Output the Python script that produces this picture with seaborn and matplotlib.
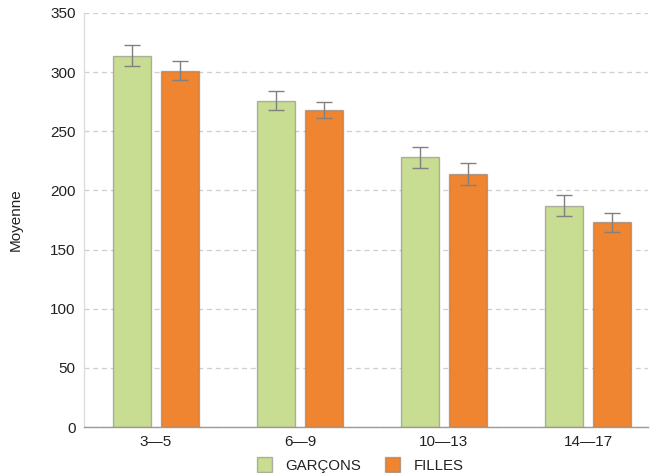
import matplotlib
matplotlib.use("Agg")
import matplotlib.pyplot as plt
import seaborn as sns
import pandas as pd
import numpy as np

categories = ["3\u20145", "6\u20149", "10\u201413", "14\u201417"]
series = ["GARÇONS", "FILLES"]
garcons = [314, 276, 228, 187]
filles = [301, 268, 214, 173]
garcons_err = [9, 8, 9, 9]
filles_err = [8, 7, 9, 8]
colors = ["#C8DC92", "#EF8431"]

sns.set_theme(style="white")
plt.rcParams["font.family"] = ["Liberation Sans", "DejaVu Sans"]

df = pd.DataFrame({
    "Tranche": categories * 2,
    "Sexe": [series[0]] * 4 + [series[1]] * 4,
    "Moyenne": garcons + filles,
})

fig = plt.figure(figsize=(6.51, 4.73), dpi=100)
ax = fig.add_axes([84 / 651, 1 - 427 / 473, (648 - 84) / 651, (427 - 13) / 473])

sns.barplot(data=df, x="Tranche", y="Moyenne", hue="Sexe", palette=colors,
            width=0.667, gap=0.2, errorbar=None, ax=ax,
            edgecolor=(0.45, 0.45, 0.45, 0.5), linewidth=1.0, saturation=1)

errs = garcons_err + filles_err
bars = [p for p in ax.patches if p.get_height() > 0][:8]
xs = [b.get_x() + b.get_width() / 2 for b in bars]
hs = [b.get_height() for b in bars]
ax.errorbar(xs, hs, yerr=errs, fmt="none", ecolor="#808080", elinewidth=1.0,
            capsize=5.5, capthick=1.0, zorder=5)

ax.set_ylim(0, 350)
ax.set_xlim(-0.5, 3.417)
ax.set_yticks(np.arange(0, 351, 50))
ax.yaxis.grid(True, linestyle=(0, (4, 3)), color="#cfcfcf", linewidth=0.9)
ax.set_axisbelow(True)
ax.set_xlabel("")
ax.set_ylabel("Moyenne", fontsize=11, color="#222222", labelpad=20)
ax.tick_params(axis="y", length=4, color="#dddddd", labelsize=11, labelcolor="#222222", pad=2)
ax.tick_params(axis="x", length=0, labelsize=11, labelcolor="#222222", pad=6)
for s in ["top", "right"]:
    ax.spines[s].set_visible(False)
ax.spines["left"].set_color("#dddddd")
ax.spines["left"].set_linewidth(1.0)
ax.spines["bottom"].set_color("#9a9a9a")
ax.spines["bottom"].set_linewidth(1.0)

leg = ax.legend(loc="lower center", bbox_to_anchor=(360 / 651, -0.012),
                bbox_transform=fig.transFigure, ncol=2, frameon=False,
                fontsize=10.8, handlelength=1.0, handleheight=1.1,
                handletextpad=0.9, columnspacing=1.6, borderaxespad=0)
for t in leg.get_texts():
    t.set_color("#222222")

fig.savefig("out.png", dpi=100)
